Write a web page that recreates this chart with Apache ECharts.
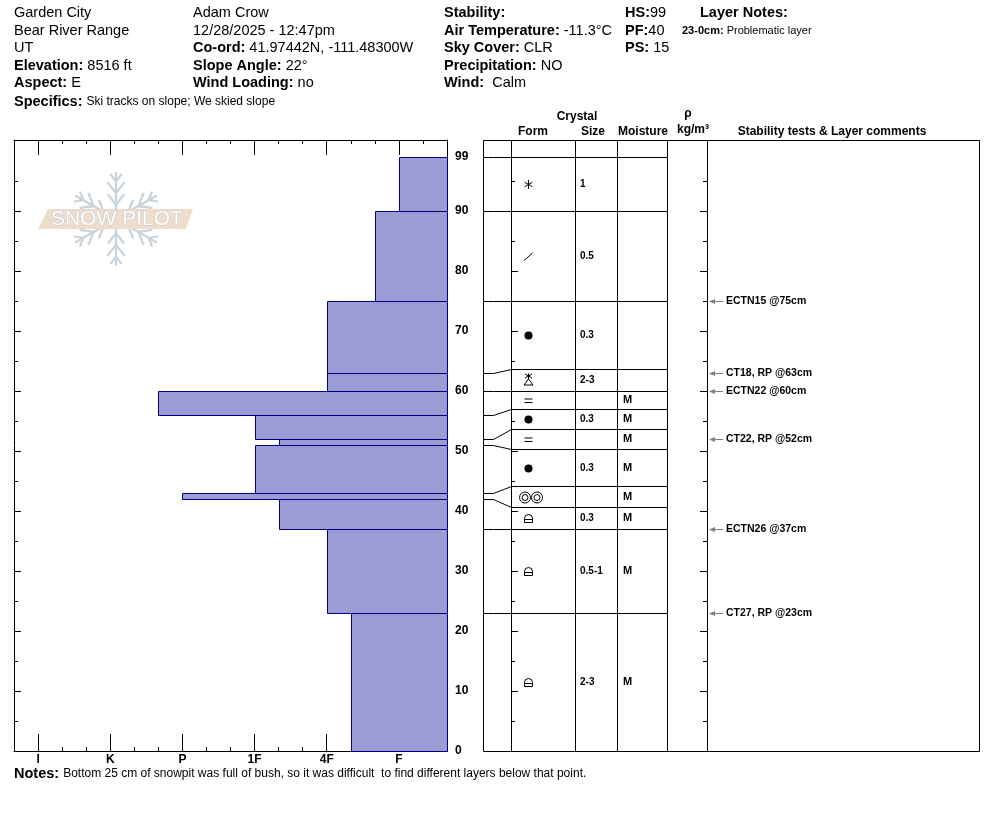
<!doctype html>
<html lang="en">
<head>
<meta charset="utf-8">
<title>snowpit profile</title>
<script src="https://cdn.jsdelivr.net/npm/echarts@6/dist/echarts.min.js"></script>
<style>
    *{margin:0;padding:0}
    html,body{width:100%;height:100%;background:#fff}
    #main{width:994px;height:840px}
</style>
</head>
<body>
<div id="main"></div>
<script type="text/javascript">
    var FONT = '"Liberation Sans", Arial, sans-serif';

    // hand hardness scale, 0 = right edge of the profile
    var hardnessCodes = ['', 'F-', 'F', 'F+', '4F-', '4F', '4F+', '1F-', '1F', '1F+', 'P-', 'P', 'P+', 'K-', 'K', 'K+', 'I-', 'I', 'I+'];
    var hardnessMajor = [2, 5, 8, 11, 14, 17];
    var hardnessMinor = [1, 3, 4, 6, 7, 9, 10, 12, 13, 15, 16];

    // layers, top to bottom (cm)
    var layerTop      = [99, 90, 75, 63, 60, 56, 52, 51, 43, 42, 37, 23];
    var layerBottom   = [90, 75, 63, 60, 56, 52, 51, 43, 42, 37, 23, 0];
    var layerHardness = ['F', 'F+', '4F', '4F', 'P+', '1F', '1F-', '1F', 'P', '1F-', '4F', '4F-'];
    var layerForm     = ['PP', 'DF', 'RG', 'SH', 'IF', 'RG', 'IF', 'RG', 'MFcl', 'FCxr', 'FCxr', 'FCxr'];
    var layerSize     = ['1', '0.5', '0.3', '2-3', '', '0.3', '', '0.3', '', '0.3', '0.5-1', '2-3'];
    var layerMoisture = ['', '', '', '', 'M', 'M', 'M', 'M', 'M', 'M', 'M', 'M'];
    // where each layer top is drawn in the description table (cm)
    var tableTop      = [99, 90, 75, 63.6, 59.95, 56.95, 53.6, 50.3, 44.1, 40.7, 37, 23];

    // stability tests
    var testDepth = [75, 63, 60, 52, 37, 23];
    var testText  = ['ECTN15 @75cm', 'CT18, RP @63cm', 'ECTN22 @60cm', 'CT22, RP @52cm', 'ECTN26 @37cm', 'CT27, RP @23cm'];

    var depthLabels = [0, 10, 20, 30, 40, 50, 60, 70, 80, 90, 99];
    var depthMajor  = [10, 20, 30, 40, 50, 60, 70, 80, 90];
    var depthMinor  = [5, 15, 25, 35, 45, 55, 65, 75, 85, 95];

    // header
    var headCol1 = ['Garden City', 'Bear River Range', 'UT', '{b|Elevation:} 8516 ft', '{b|Aspect:} E'];
    var headCol2 = ['Adam Crow', '12/28/2025 - 12:47pm', '{b|Co-ord:} 41.97442N, -111.48300W', '{b|Slope Angle:} 22°', '{b|Wind Loading:} no'];
    var headCol3 = ['{b|Stability:}', '{b|Air Temperature:} -11.3°C', '{b|Sky Cover:} CLR', '{b|Precipitation:} NO', '{b|Wind:}  Calm'];
    var headCol4 = ['{b|HS:}99', '{b|PF:}40', '{b|PS:} 15'];
    var specifics = 'Ski tracks on slope; We skied slope';
    var layerNote = 'Problematic layer';
    var notes = 'Bottom 25 cm of snowpit was full of bush, so it was difficult  to find different layers below that point.';

    var DEPTH_MAX = 611 / 6;
    var BAR_FILL = '#9b9bd6';
    var BAR_EDGE = '#000080';
    var HEAD_SIZE = 14.5;

    function px(v) { return Math.round(v) + 0.5; }
    function crisp(p) { return [px(p[0]), px(p[1])]; }

    function depthAxis(grid, pos, offset, ticks, len, withLine, labels) {
        return {
            type: 'value', gridIndex: grid, position: pos, offset: offset,
            min: 0, max: DEPTH_MAX,
            axisLine: {show: withLine, onZero: false, lineStyle: {color: '#000', width: 1}},
            axisTick: {show: true, inside: true, length: len, customValues: ticks, lineStyle: {color: '#000', width: 1}},
            axisLabel: labels ? {
                show: true, customValues: labels, margin: 8, color: '#000',
                fontFamily: FONT, fontWeight: 'bold', fontSize: 12, align: 'left'
            } : {show: false},
            splitLine: {show: false}
        };
    }

    function hardAxis(pos, ticks, len, withLine, labels) {
        return {
            type: 'value', gridIndex: 0, position: pos, inverse: true,
            min: 0, max: 18,
            axisLine: {show: withLine, onZero: false, lineStyle: {color: '#000', width: 1}},
            axisTick: {show: true, inside: true, length: len, customValues: ticks, lineStyle: {color: '#000', width: 1}},
            axisLabel: labels ? {
                show: true, customValues: labels, margin: 3, color: '#000',
                fontFamily: FONT, fontWeight: 'bold', fontSize: 12,
                formatter: function (v) { return hardnessCodes[v]; }
            } : {show: false},
            splitLine: {show: false}
        };
    }

    function line(x1, y1, x2, y2, color, w) {
        return {type: 'line', shape: {x1: x1, y1: y1, x2: x2, y2: y2}, style: {stroke: color || '#000', lineWidth: w || 1}};
    }

    function formShape(code, cx, cy) {
        var st = {stroke: '#000', lineWidth: 1, fill: null};
        var kids = [];
        if (code === 'PP') {
            [90, 30, 150].forEach(function (d) {
                var a = d * Math.PI / 180;
                kids.push(line(cx - Math.cos(a) * 4.5, cy + Math.sin(a) * 4.5, cx + Math.cos(a) * 4.5, cy - Math.sin(a) * 4.5));
            });
        } else if (code === 'DF') {
            kids.push(line(cx - 4.5, cy + 4, cx + 4, cy - 3.5));
        } else if (code === 'RG') {
            kids.push({type: 'circle', shape: {cx: cx, cy: cy, r: 4}, style: {fill: '#000'}});
        } else if (code === 'SH') {
            kids.push({type: 'polygon', shape: {points: [[cx, cy - 1.5], [cx - 4.5, cy + 4.5], [cx + 4.5, cy + 4.5]]}, style: st});
            kids.push(line(cx - 3.5, cy - 6.5, cx + 3.5, cy - 2.5));
            kids.push(line(cx + 3.5, cy - 6.5, cx - 3.5, cy - 2.5));
            kids.push(line(cx, cy - 7, cx, cy - 1.5));
        } else if (code === 'IF') {
            kids.push(line(cx - 4, cy - 1.5, cx + 4, cy - 1.5));
            kids.push(line(cx - 4, cy + 2, cx + 4, cy + 2));
        } else if (code === 'MFcl') {
            [-3.5, 8.5].forEach(function (o) {
                kids.push({type: 'circle', shape: {cx: cx + o, cy: cy, r: 5.5}, style: st});
                kids.push({type: 'circle', shape: {cx: cx + o, cy: cy, r: 3}, style: st});
            });
        } else if (code === 'FCxr') {
            kids.push({type: 'path', shape: {pathData: 'M' + (cx - 4) + ' ' + (cy + 4) + 'L' + (cx - 4) + ' ' + (cy) +
                'A4 4 0 0 1 ' + (cx + 4) + ' ' + (cy) + 'L' + (cx + 4) + ' ' + (cy + 4) + 'Z'}, style: st});
            kids.push(line(cx - 4, cy + 1, cx + 4, cy + 1));
        }
        return {type: 'group', children: kids};
    }

    function snowflake(cx, cy, r) {
        var kids = [];
        var col = '#c9d3db';
        [90, 30, -30, -90, -150, 150].forEach(function (deg) {
            var a = deg * Math.PI / 180, ux = Math.cos(a), uy = -Math.sin(a);
            kids.push(line(cx + ux * 6, cy + uy * 6, cx + ux * r, cy + uy * r, col, 2.2));
            [[0.3, 0.28], [0.55, 0.3], [0.8, 0.2]].forEach(function (b) {
                var bx = cx + ux * r * b[0], by = cy + uy * r * b[0], bl = r * b[1];
                [38, -38].forEach(function (s) {
                    var c = a + s * Math.PI / 180;
                    kids.push(line(bx, by, bx + Math.cos(c) * bl, by - Math.sin(c) * bl, col, 2.2));
                });
            });
        });
        return kids;
    }

    function headText(x, y, text, size) {
        size = size || HEAD_SIZE;
        return {
            type: 'text', x: x, y: y, silent: true,
            style: {
                text: text, fill: '#000', fontFamily: FONT, fontSize: size, verticalAlign: 'middle',
                rich: {
                    b: {fontFamily: FONT, fontSize: size, fontWeight: 'bold', fill: '#000'},
                    s: {fontFamily: FONT, fontSize: 12, fill: '#000'},
                    n: {fontFamily: FONT, fontSize: 11, fill: '#000'},
                    nb: {fontFamily: FONT, fontSize: 11, fontWeight: 'bold', fill: '#000'}
                }
            }
        };
    }

    var graphics = [];
    headCol1.forEach(function (t, i) { graphics.push(headText(14, 13 + 17.6 * i, t)); });
    headCol2.forEach(function (t, i) { graphics.push(headText(193, 13 + 17.6 * i, t)); });
    headCol3.forEach(function (t, i) { graphics.push(headText(444, 13 + 17.6 * i, t)); });
    headCol4.forEach(function (t, i) { graphics.push(headText(625, 13 + 17.6 * i, t)); });
    graphics.push(headText(14, 102, '{b|Specifics:} {s|' + specifics + '}'));
    graphics.push(headText(700, 13, '{b|Layer Notes:}'));
    graphics.push(headText(682, 31, '{nb|23-0cm:} {n|' + layerNote + '}', 11));
    graphics.push(headText(14, 774, '{b|Notes:} {s|' + notes + '}'));

    // table header
    [['Crystal', 577, 117], ['Form', 533, 132], ['Size', 593, 132], ['Moisture', 643, 132],
     ['ρ', 688, 114], ['kg/m³', 693, 130], ['Stability tests & Layer comments', 832, 132]].forEach(function (h) {
        graphics.push({type: 'text', x: h[1], y: h[2], silent: true,
            style: {text: h[0], fill: '#000', fontFamily: FONT, fontSize: 12, fontWeight: 'bold', align: 'center', verticalAlign: 'middle'}});
    });

    // watermark
    graphics.push({type: 'group', silent: true, children: snowflake(116, 219, 47)});
    graphics.push({type: 'polygon', silent: true, shape: {points: [[48, 209], [193, 209], [186, 229], [38, 229]]}, style: {fill: '#f0dccb'}});
    graphics.push({type: 'text', x: 117, y: 219, silent: true,
        style: {text: 'SNOW PILOT', fontFamily: FONT, fontSize: 21, fill: '#fff', stroke: '#bcc5cc', lineWidth: 1,
            align: 'center', verticalAlign: 'middle'}});

    var myChart = echarts.init(document.getElementById('main'));

    var option = {
        animation: false,
        grid: [
            {left: 14, top: 140, width: 433, height: 611, outerBoundsMode: 'none'},
            {left: 483, top: 140, width: 496, height: 611, outerBoundsMode: 'none'}
        ],
        xAxis: [
            hardAxis('bottom', hardnessMajor, 17, true, hardnessMajor),
            hardAxis('bottom', hardnessMinor, 4, false, null),
            hardAxis('top', hardnessMajor, 15, true, null),
            hardAxis('top', hardnessMinor, 4, false, null),
            {type: 'value', gridIndex: 1, min: 0, max: 496, show: false}
        ],
        yAxis: [
            depthAxis(0, 'left', 0, depthMajor, 7, true, null),
            depthAxis(0, 'left', 0, depthMinor, 4, false, null),
            depthAxis(0, 'right', 0, depthMajor, 7, true, depthLabels),
            depthAxis(0, 'right', 0, depthMinor, 4, false, null),
            {type: 'value', gridIndex: 1, min: 0, max: DEPTH_MAX, show: false},
            depthAxis(1, 'left', -28, depthMajor, 7, false, null),
            depthAxis(1, 'left', -28, depthMinor, 4, false, null),
            depthAxis(1, 'right', -272, depthMajor, 7, false, null),
            depthAxis(1, 'right', -272, depthMinor, 4, false, null)
        ],
        graphic: graphics,
        series: [
            {
                // hardness profile
                type: 'custom', xAxisIndex: 0, yAxisIndex: 0,
                encode: {x: 2, y: [0, 1]},
                data: layerTop.map(function (t, i) {
                    return [t, layerBottom[i], hardnessCodes.indexOf(layerHardness[i])];
                }),
                renderItem: function (params, api) {
                    var a = api.coord([api.value(2), api.value(0)]);
                    var b = api.coord([0, api.value(1)]);
                    var x = px(a[0]), y = px(a[1]);
                    return {type: 'rect', shape: {x: x, y: y, width: px(b[0]) - x, height: px(b[1]) - y},
                        style: {fill: BAR_FILL, stroke: BAR_EDGE, lineWidth: 1}};
                },
                silent: true
            },
            {
                // table frame
                type: 'custom', xAxisIndex: 4, yAxisIndex: 4,
                data: [[0]],
                renderItem: function (params, api) {
                    var kids = [];
                    [0, 28, 92, 134, 184, 224, 496].forEach(function (c) {
                        var t = crisp(api.coord([c, DEPTH_MAX])), b = crisp(api.coord([c, 0]));
                        kids.push(line(t[0], t[1], b[0], b[1]));
                    });
                    [DEPTH_MAX, 0].forEach(function (d) {
                        var l = crisp(api.coord([0, d])), r = crisp(api.coord([496, d]));
                        kids.push(line(l[0], l[1], r[0], r[1]));
                    });
                    return {type: 'group', children: kids};
                },
                silent: true
            },
            {
                // layer boundaries, joined to their table rows
                type: 'custom', xAxisIndex: 4, yAxisIndex: 4,
                data: layerTop.map(function (t, i) { return [t, tableTop[i]]; }),
                renderItem: function (params, api) {
                    var d = api.value(0), p = api.value(1);
                    var pts = [api.coord([0, d]), api.coord([10, d]), api.coord([28, p]), api.coord([184, p])].map(crisp);
                    return {type: 'polyline', shape: {points: pts}, style: {stroke: '#000', lineWidth: 1, fill: null}};
                },
                silent: true
            },
            {
                // crystal form, size, moisture
                type: 'custom', xAxisIndex: 4, yAxisIndex: 4,
                data: layerTop.map(function (t, i) {
                    return [i, tableTop[i], i + 1 < tableTop.length ? tableTop[i + 1] : 0];
                }),
                renderItem: function (params, api) {
                    var i = api.value(0);
                    var mid = (api.value(1) + api.value(2)) / 2;
                    var f = api.coord([45, mid]);
                    var kids = [formShape(layerForm[i], Math.round(f[0]) + 0.5, Math.round(f[1]) + 0.5)];
                    var s = api.coord([97, mid]);
                    kids.push({type: 'text', style: {x: s[0], y: s[1], text: layerSize[i], fill: '#000',
                        fontFamily: FONT, fontSize: 10, fontWeight: 'bold', align: 'left', verticalAlign: 'middle'}});
                    var m = api.coord([140, mid]);
                    kids.push({type: 'text', style: {x: m[0], y: m[1], text: layerMoisture[i], fill: '#000',
                        fontFamily: FONT, fontSize: 11, fontWeight: 'bold', align: 'left', verticalAlign: 'middle'}});
                    return {type: 'group', children: kids};
                },
                silent: true
            },
            {
                // stability tests
                type: 'custom', xAxisIndex: 4, yAxisIndex: 4,
                data: testDepth.map(function (d, i) { return [d, i]; }),
                renderItem: function (params, api) {
                    var p = api.coord([225, api.value(0)]);
                    var y = Math.round(p[1]) + 0.5, x = Math.round(p[0]);
                    return {type: 'group', children: [
                        line(x + 3, y, x + 15, y, '#808080', 1),
                        {type: 'polygon', shape: {points: [[x + 1, y], [x + 7, y - 2.5], [x + 7, y + 2.5]]}, style: {fill: '#808080'}},
                        {type: 'text', style: {x: x + 18, y: y, text: testText[api.value(1)], fill: '#000',
                            fontFamily: FONT, fontSize: 10.5, fontWeight: 'bold', align: 'left', verticalAlign: 'middle'}}
                    ]};
                },
                silent: true
            }
        ]
    };
    myChart.setOption(option);
</script>
</body>
</html>
